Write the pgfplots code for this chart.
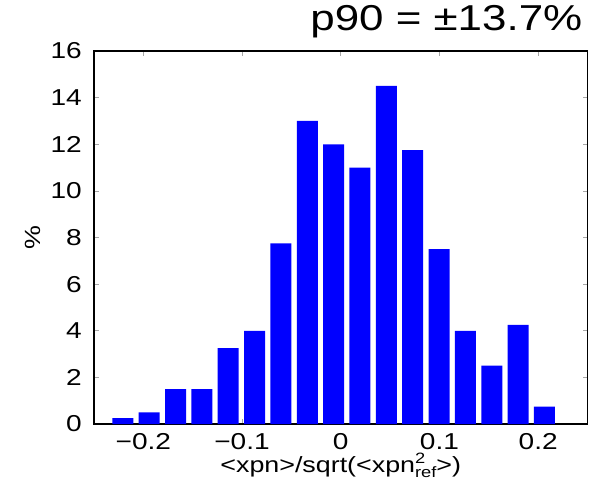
\documentclass[border=0pt]{standalone}
\usepackage{fontspec}
\setmainfont[FakeStretch=1.22]{Liberation Sans}
\usepackage{pgfplots}
\pgfplotsset{compat=1.18}

% histogram of normalised <xpn>, in percent of all entries
\pgfplotstableread{
x        pct
-0.2208  0.25
-0.1941  0.50
-0.1674  1.50
-0.1407  1.50
-0.1140  3.25
-0.0873  4.00
-0.0606  7.75
-0.0339  13.00
-0.0072  12.00
 0.0195  11.00
 0.0462  14.50
 0.0729  11.75
 0.0996  7.50
 0.1263  4.00
 0.1530  2.50
 0.1797  4.25
 0.2064  0.75
}\histdata

% stacked superscript 2 over subscript "ref"
\newcommand{\supsub}{\raisebox{-5pt}{\fontsize{15}{15}\selectfont\shortstack[l]{2\\ref}}}

\begin{document}
\begin{tikzpicture}
\useasboundingbox (0pt,0pt) rectangle (603pt,496pt);
\begin{axis}[
  at={(94pt,72pt)}, anchor=south west,
  scale only axis, width=493.5pt, height=373pt,
  xmin=-0.25, xmax=0.25, ymin=0, ymax=16,
  xtick={-0.2,-0.1,0,0.1,0.2},
  xticklabels={−0.2,−0.1,0,0.1,0.2},
  ytick={0,2,...,16},
  /pgf/number format/assume math mode=true,
  tick align=inside,
  major tick length=5pt,
  minor tick num=0,
  tick style={gray!70, line width=0.6pt},
  axis line style={black, line width=1.2pt},
  ticklabel style={font=\fontsize{23}{23}\selectfont},
  yticklabel style={inner sep=0pt, anchor=east, xshift=-12pt},
  xticklabel style={inner sep=0pt, anchor=north, yshift=-9pt},
  xlabel={<xpn>/sqrt(<xpn\supsub>)},
  xlabel style={at={(rel axis cs:0.5,0)}, anchor=base, yshift=-48pt,
    inner sep=0pt, font=\fontsize{22}{22}\selectfont},
  ylabel={\%},
  ylabel style={at={(rel axis cs:0,0.5)}, anchor=center, yshift=61pt,
    inner sep=0pt, font=\fontsize{22}{22}\selectfont},
  title={p90 = ±13.7\%},
  title style={at={(rel axis cs:1,1)}, anchor=base east, yshift=14pt,
    xshift=-5pt, inner sep=0pt, font=\fontsize{36}{36}\selectfont},
]
\addplot[ybar, bar width=21pt, bar shift=0pt, fill=blue, draw=none]
  table[x=x, y=pct] {\histdata};
\end{axis}
\end{tikzpicture}
\end{document}
